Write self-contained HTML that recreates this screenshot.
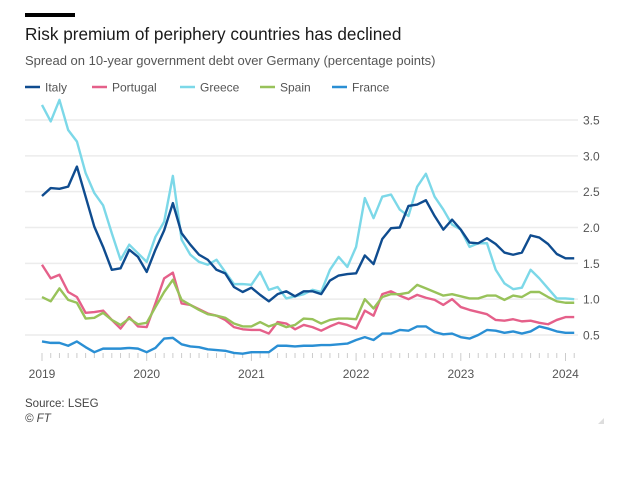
<!DOCTYPE html>
<html><head><meta charset="utf-8"><style>
body{margin:0;background:#fff;width:624px;height:486px;overflow:hidden;font-family:"Liberation Sans",sans-serif;position:relative}
.a{position:absolute;white-space:nowrap}
</style></head><body>
<div class="a" style="left:25px;top:13px;width:50px;height:4px;background:#000"></div>
<div class="a" style="left:25px;top:24px;font-size:17.2px;color:#1a1a1a">Risk premium of periphery countries has declined</div>
<div class="a" style="left:25px;top:53px;font-size:13px;color:#555">Spread on 10-year government debt over Germany (percentage points)</div>
<svg id="c" width="624" height="486" style="position:absolute;left:0;top:0"></svg>
<div class="a" style="left:25px;top:398px;font-size:11.5px;color:#444">Source: LSEG</div>
<div class="a" style="left:25px;top:413px;font-size:11.5px;color:#444;font-style:italic">© FT</div>
<script>
const names=["Italy","Portugal","Greece","Spain","France"];
const colors=["#0f4c8f","#e5608a","#7cd8e8","#98c25a","#2a8fd4"];
const italy=[2.44,2.55,2.54,2.57,2.85,2.43,2.01,1.73,1.41,1.43,1.69,1.59,1.38,1.69,1.96,2.34,1.92,1.76,1.62,1.55,1.41,1.36,1.17,1.10,1.16,1.06,0.97,1.07,1.11,1.04,1.11,1.11,1.07,1.26,1.33,1.35,1.36,1.61,1.49,1.84,1.99,2.0,2.30,2.32,2.38,2.16,1.97,2.11,1.97,1.79,1.78,1.85,1.77,1.65,1.62,1.65,1.89,1.86,1.77,1.63,1.57,1.57];
const portugal=[1.48,1.29,1.34,1.10,1.03,0.81,0.82,0.84,0.71,0.59,0.75,0.62,0.61,0.94,1.29,1.37,0.94,0.92,0.86,0.80,0.77,0.71,0.61,0.58,0.57,0.57,0.52,0.68,0.66,0.58,0.64,0.61,0.56,0.62,0.67,0.64,0.59,0.84,0.77,1.07,1.11,1.05,1.0,1.06,1.02,0.99,0.92,1.0,0.89,0.85,0.82,0.79,0.71,0.70,0.72,0.69,0.70,0.67,0.65,0.71,0.75,0.75];
const greece=[3.71,3.48,3.78,3.36,3.20,2.76,2.48,2.31,1.92,1.55,1.76,1.64,1.52,1.87,2.08,2.72,1.83,1.62,1.52,1.48,1.55,1.38,1.21,1.21,1.20,1.38,1.13,1.17,1.01,1.04,1.07,1.13,1.10,1.41,1.59,1.45,1.73,2.41,2.13,2.43,2.46,2.25,2.16,2.57,2.75,2.43,2.25,2.04,1.97,1.73,1.78,1.78,1.41,1.22,1.14,1.16,1.41,1.29,1.15,1.01,1.01,1.00];
const spain=[1.03,0.97,1.15,0.99,0.95,0.73,0.74,0.81,0.71,0.64,0.73,0.65,0.67,0.89,1.10,1.27,0.99,0.92,0.85,0.79,0.77,0.74,0.66,0.62,0.62,0.68,0.62,0.66,0.61,0.64,0.73,0.72,0.66,0.71,0.73,0.73,0.72,1.0,0.87,1.03,1.07,1.07,1.09,1.2,1.15,1.10,1.05,1.07,1.04,1.01,1.01,1.05,1.05,0.99,1.05,1.03,1.10,1.10,1.03,0.97,0.95,0.95];
const france=[0.41,0.39,0.39,0.35,0.41,0.33,0.26,0.31,0.31,0.31,0.32,0.31,0.26,0.32,0.45,0.46,0.37,0.34,0.33,0.30,0.29,0.28,0.25,0.24,0.26,0.26,0.26,0.35,0.35,0.34,0.35,0.35,0.36,0.36,0.37,0.38,0.43,0.47,0.43,0.52,0.52,0.57,0.56,0.62,0.62,0.54,0.51,0.52,0.47,0.45,0.50,0.57,0.56,0.53,0.55,0.52,0.55,0.62,0.59,0.55,0.53,0.53];
const yTicks=[0.5,1.0,1.5,2.0,2.5,3.0,3.5];
const xYears=[2019,2020,2021,2022,2023,2024];
const series=[italy,portugal,greece,spain,france];
const drawOrder=[4,1,3,2,0];
const NS="http://www.w3.org/2000/svg";
const svg=document.getElementById('c');
const y=v=>335-(v-0.5)*71.67;
const x=i=>42+i*104.7/12;
const xy=yr=>42+(yr-2019)*104.7;
function mk(t,a){const e=document.createElementNS(NS,t);for(const k in a)e.setAttribute(k,a[k]);svg.appendChild(e);return e;}
yTicks.forEach(t=>{
  const g=mk('line',{x1:25,x2:578,y1:y(t),y2:y(t),stroke:'#ececec','stroke-width':1.5});
  
  
  const l=mk('text',{x:583,y:y(t)+4.5,'font-size':12,fill:'#555','font-family':'Liberation Sans, sans-serif'});
  l.textContent=t.toFixed(1);
  
  
});
for(let i=0;i<62;i++){
  const t=mk('line',{x1:x(i),x2:x(i),y1:353,y2:i%12==0?361:358,stroke:'#ccc','stroke-width':1});
  
  
}
xYears.forEach(yr=>{
  const l=mk('text',{x:xy(yr),y:378,'font-size':12,fill:'#555','text-anchor':'middle','font-family':'Liberation Sans, sans-serif'});
  l.textContent=yr;
  
  
});
drawOrder.forEach(k=>{
  const p=mk('polyline',{points:series[k].map((v,i)=>x(i)+','+y(v)).join(' '),fill:'none',stroke:colors[k],'stroke-width':2.4,'stroke-linejoin':'round'});
  
  
});
const lx=[25,92,180,260,332];
names.forEach((n,k)=>{
  const s=mk('line',{x1:lx[k],x2:lx[k]+15,y1:87,y2:87,stroke:colors[k],'stroke-width':2.5});
  
  
  const t=mk('text',{x:lx[k]+20,y:91.5,'font-size':12,fill:'#555','font-family':'Liberation Sans, sans-serif'});
  t.textContent=n;
  
  
});
const c=mk('path',{d:'M598 424 L604 418 L604 424 Z',fill:'#ddd'});


</script>
</body></html>
